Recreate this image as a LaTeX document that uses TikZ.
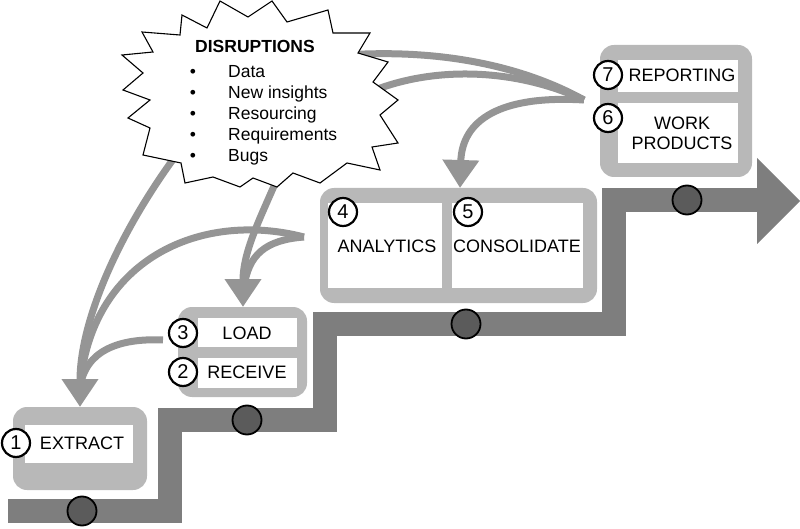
\documentclass[tikz,border=0pt]{standalone}
\usepackage{fontspec}
\setmainfont{Liberation Sans}
\usetikzlibrary{arrows.meta}
\definecolor{bandgray}{HTML}{7E7E7E}
\definecolor{dotgray}{HTML}{5B5B5B}
\definecolor{boxgray}{HTML}{B8B8B8}
\definecolor{arrgray}{HTML}{959595}
\begin{document}
\begin{tikzpicture}[x=1pt,y=-1pt,
  band/.style={line width=24pt, draw=bandgray, line join=miter},
  dot/.style={circle, draw=black, line width=1.8pt, fill=dotgray, minimum size=29pt, inner sep=0pt},
  outerbox/.style={fill=boxgray, rounded corners=14pt, inner sep=0pt},
  innerbox/.style={fill=white, inner sep=0pt},
  num/.style={circle, draw=black, line width=2.2pt, fill=white, minimum size=28pt, inner sep=0pt, font=\fontsize{20}{20}\selectfont},
  lbl/.style={font=\fontsize{18}{20}\selectfont, inner sep=0pt, align=center},
  item/.style={font=\fontsize{17.5}{20}\selectfont, inner sep=0pt, anchor=base west},
  bul/.style={font=\fontsize{17.5}{20}\selectfont, inner sep=0pt, anchor=base},
  flow/.style={line width=7pt, draw=arrgray},
  tip/.style={-{Triangle[width=35pt,length=28pt]}}
]
\useasboundingbox (0,0) rectangle (800,529);

% staircase band
\coordinate (bandStart) at (8,511);
\coordinate (bandEnd) at (760,200);
\draw[band] (bandStart) -- (170,511) -- (170,420) -- (325,420) -- (325,324) -- (614,324) -- (614,200) -- (bandEnd);
\fill[bandgray] (757,158) -- (800,201) -- (757,244) -- cycle;

% dots on band
\node[dot] (d1) at (82,511) {};
\node[dot] (d2) at (247,420) {};
\node[dot] (d3) at (466,324) {};
\node[dot] (d4) at (687,200) {};

% connector coordinates
\coordinate (sA) at (180,150);
\coordinate (s45) at (304,237);
\coordinate (sC) at (163,340);
\coordinate (sD) at (280,172);
\coordinate (s67) at (584,100);
\coordinate (extJ) at (80,388);
\coordinate (extT) at (80,407);
\coordinate (loadJ) at (244,288);
\coordinate (loadT) at (243,307);
\coordinate (starF) at (345,55);
\coordinate (starG) at (375,90);
\coordinate (consT) at (460,188);

% curved arrows
\draw[flow] (s45) .. controls (200,210) and (90,260) .. (extJ);
\draw[flow] (sC) .. controls (120,338) and (85,350) .. (extJ);
\draw[flow,tip] (sA) .. controls (120,230) and (80,320) .. (extT);
\draw[flow] (s45) .. controls (265,240) and (248,255) .. (loadJ);
\draw[flow,tip] (sD) .. controls (262,215) and (243,250) .. (loadT);
\draw[flow] (s67) .. controls (530,70) and (450,48) .. (starF);
\draw[flow] (s67) .. controls (520,70) and (440,65) .. (starG);
\draw[flow,tip] (s67) .. controls (500,95) and (462,120) .. (consT);

% starburst
\draw[black, line width=1.1pt, fill=white, line join=miter]
 (220,1) -- (248,17) -- (272,1) -- (287,22) -- (328,10) -- (333,33) -- (370,33) -- (358,53)
 -- (388,62) -- (373,82) -- (398,100) -- (380,115) -- (398,143) -- (372,147) -- (380,170)
 -- (347,163) -- (320,183) -- (293,173) -- (277,187) -- (253,178) -- (240,187) -- (213,177)
 -- (185,183) -- (181,163) -- (143,155) -- (150,128) -- (128,118) -- (150,100) -- (123,90)
 -- (143,73) -- (122,55) -- (153,52) -- (142,32) -- (180,35) -- (182,15) -- (207,28) -- cycle;
\node[font=\fontsize{17.5}{20}\selectfont\bfseries, inner sep=0pt, anchor=base] (dtitle) at (255,53) {DISRUPTIONS};
\node[bul] (u1) at (193,78) {•};
\node[bul] (u2) at (193,99) {•};
\node[bul] (u3) at (193,120) {•};
\node[bul] (u4) at (193,141) {•};
\node[bul] (u5) at (193,162) {•};
\node[item] (i1) at (228,78) {Data};
\node[item] (i2) at (228,99) {New insights};
\node[item] (i3) at (228,120) {Resourcing};
\node[item] (i4) at (228,141) {Requirements};
\node[item] (i5) at (228,162) {Bugs};

% box 1
\node[outerbox, minimum width=134pt, minimum height=83pt] (b1) at (80,448.5) {};
\node[innerbox, minimum width=108pt, minimum height=38pt] (w1) at (79,444) {};
\node[lbl, anchor=base] (t1) at (82,449) {EXTRACT};
\node[num] (n1) at (16,443) {1};

% box 2/3
\node[outerbox, minimum width=129pt, minimum height=90pt] (b23) at (242.5,352) {};
\node[innerbox, minimum width=99pt, minimum height=29pt] (w3) at (247.5,332.5) {};
\node[innerbox, minimum width=99pt, minimum height=30pt] (w2) at (247.5,373) {};
\node[lbl, anchor=base] (t3) at (247,339.5) {LOAD};
\node[lbl, anchor=base] (t2) at (247,378.5) {RECEIVE};
\node[num] (n3) at (183,333) {3};
\node[num] (n2) at (183,372) {2};

% box 4/5
\node[outerbox, minimum width=277pt, minimum height=115pt] (b45) at (458.5,245.5) {};
\node[innerbox, minimum width=114pt, minimum height=85pt] (w4) at (385,245.5) {};
\node[innerbox, minimum width=131pt, minimum height=85pt] (w5) at (517.5,245.5) {};
\node[lbl, anchor=base] (t4) at (387,252.5) {ANALYTICS};
\node[lbl, anchor=base] (t5) at (517,252.5) {CONSOLIDATE};
\node[num] (n4) at (343,212) {4};
\node[num] (n5) at (468,212) {5};

% box 6/7
\node[outerbox, minimum width=152pt, minimum height=132pt] (b67) at (676,111) {};
\node[innerbox, minimum width=120pt, minimum height=32pt] (w7) at (678,76) {};
\node[innerbox, minimum width=120pt, minimum height=60pt] (w6) at (678,133) {};
\node[lbl, anchor=base] (t7) at (682,81.5) {REPORTING};
\node[lbl] (t6) at (682,133) {WORK\\PRODUCTS};
\node[num] (n7) at (608,75) {7};
\node[num] (n6) at (608,118) {6};
\end{tikzpicture}
\end{document}
